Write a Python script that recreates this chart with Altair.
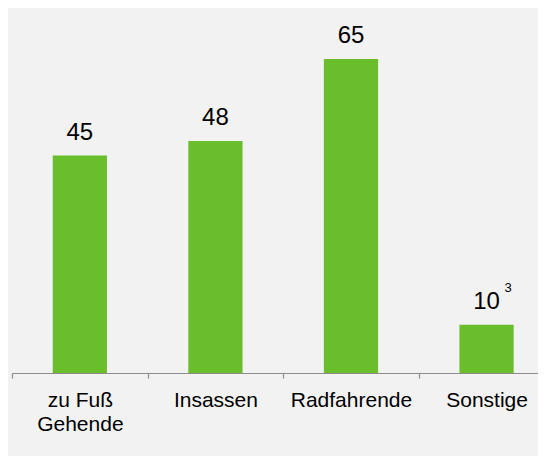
import altair as alt
import pandas as pd

categories = ["zu Fuß\nGehende", "Insassen", "Radfahrende", "Sonstige"]
values = [45, 48, 65, 10]
footnotes = ["", "", "", "3"]

df = pd.DataFrame({"cat": categories, "val": values, "note": footnotes})

FONT = "Liberation Sans"
PLOT_W = 526
PAD_IN, PAD_OUT = 0.6, 0.24
STEP = PLOT_W / (len(categories) - PAD_IN + 2 * PAD_OUT)

x = alt.X(
    "cat:N",
    sort=categories,
    title=None,
    scale=alt.Scale(paddingInner=PAD_IN, paddingOuter=PAD_OUT, align=0.626),
    axis=alt.Axis(
        labelAngle=0,
        labelFontSize=21,
        labelFont=FONT,
        labelColor="#000000",
        labelPadding=11,
        labelLineHeight=24,
        labelExpr="split(datum.label, '\\n')",
        labelOffset=STEP / 2,
        ticks=True,
        tickBand="center",
        tickOffset=-STEP / 2,
        tickSize=5,
        tickColor="#8c8c8c",
        domainColor="#8c8c8c",
        domainWidth=1.2,
        tickWidth=1.2,
        grid=False,
    ),
)
y = alt.Y(
    "val:Q",
    title=None,
    scale=alt.Scale(domain=[0, 65], nice=False, zero=True),
    axis=None,
)

base = alt.Chart(df).encode(x=x, y=y)

bars = base.mark_bar(color="#6bbe2b")
labels = base.mark_text(
    baseline="alphabetic", align="center", dy=-16, fontSize=24, font=FONT, color="#000000"
).encode(text="val:Q")
notes = base.mark_text(
    baseline="alphabetic", align="left", dx=18, dy=-33, fontSize=13, font=FONT, color="#000000"
).encode(text="note:N")

chart = (
    alt.layer(bars, labels, notes)
    .properties(
        width=PLOT_W,
        height=314,
        background="#f2f2f2",
        autosize=alt.AutoSizeParams(type="none"),
        padding={"left": 4, "top": 51, "right": 0, "bottom": 83},
    )
    .configure_view(stroke=None)
)

chart.save("out.html", embed_options={"renderer": "svg", "actions": False})
